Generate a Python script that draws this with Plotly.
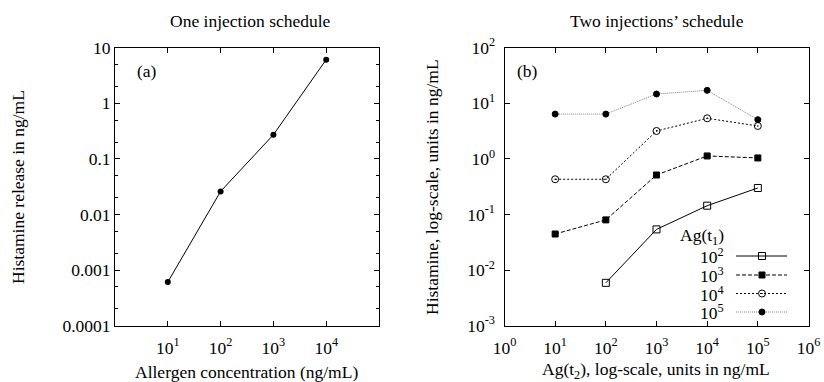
import plotly.graph_objects as go

# ---- data ----
# (a) one injection: allergen concentration vs histamine release
allergen_conc = [1e1, 1e2, 1e3, 1e4]
histamine_one = [0.00061, 0.026, 0.272, 6.1]

# (b) two injections: Ag(t2) vs histamine, one series per Ag(t1)
ag_t2 = [1e1, 1e2, 1e3, 1e4, 1e5]
series_names = ["10<sup>2</sup>", "10<sup>3</sup>", "10<sup>4</sup>", "10<sup>5</sup>"]
hist_t1_1e2 = [None, 0.0059, 0.054, 0.144, 0.30]
hist_t1_1e3 = [0.0446, 0.080, 0.513, 1.13, 1.04]
hist_t1_1e4 = [0.43, 0.43, 3.18, 5.37, 3.91]
hist_t1_1e5 = [6.4, 6.4, 14.7, 17.1, 5.07]

left_yticks = [10, 1, 0.1, 0.01, 0.001, 0.0001]
left_yticktext = ["10", "1", "0.1", "0.01", "0.001", "0.0001"]
left_xticks = [1e1, 1e2, 1e3, 1e4]
left_xticktext = ["10<sup>1</sup>", "10<sup>2</sup>", "10<sup>3</sup>", "10<sup>4</sup>"]
right_xticks = [10.0 ** k for k in range(0, 7)]
right_xticktext = ["10<sup>%d</sup>" % k for k in range(0, 7)]
right_yticks = [10.0 ** k for k in range(-3, 3)]
right_yticktext = ["10<sup>%d</sup>" % k for k in range(-3, 3)]

FONT = "Liberation Serif, Times New Roman, serif"
FS = 17.5
W, H = 824, 382

series_styles = [
    dict(dash="solid", color="black", symbol="square-open", size=7),
    dict(dash="4px,2px", color="black", symbol="square", size=6),
    dict(dash="2px,2px", color="black", symbol="circle-open-dot", size=7),
    dict(dash="1px,1px", color="#808080", symbol="circle", size=6),
]
series_values = [hist_t1_1e2, hist_t1_1e3, hist_t1_1e4, hist_t1_1e5]

fig = go.Figure()

# panel (a)
fig.add_trace(go.Scatter(
    x=allergen_conc, y=histamine_one, mode="lines+markers",
    line=dict(color="black", width=1),
    marker=dict(symbol="circle", size=6, color="black"),
    xaxis="x", yaxis="y", showlegend=False,
))

# panel (b)
for vals, st in zip(series_values, series_styles):
    fig.add_trace(go.Scatter(
        x=ag_t2, y=vals, mode="lines+markers",
        line=dict(color=st["color"], width=1, dash=st["dash"]),
        marker=dict(symbol=st["symbol"], size=st["size"], color="black",
                    line=dict(color="black", width=1)),
        xaxis="x2", yaxis="y2", showlegend=False, connectgaps=False,
    ))

# hand-drawn key for panel (b), on a pixel-scaled overlay axis
key_x0, key_x1, key_xm = 736, 787, 762
key_rows = [256, 275, 293.5, 312]
for row, st in zip(key_rows, series_styles):
    fig.add_trace(go.Scatter(
        x=[key_x0, key_x1], y=[row, row], mode="lines",
        line=dict(color=st["color"], width=1, dash=st["dash"]),
        xaxis="x3", yaxis="y3", showlegend=False, hoverinfo="skip",
    ))
    fig.add_trace(go.Scatter(
        x=[key_xm], y=[row], mode="markers",
        marker=dict(symbol=st["symbol"], size=st["size"], color="black",
                    line=dict(color="black", width=1)),
        xaxis="x3", yaxis="y3", showlegend=False, hoverinfo="skip",
    ))

axis_common = dict(
    type="log", showline=True, linecolor="black", linewidth=1,
    mirror="ticks", ticks="inside", ticklen=5, tickcolor="black",
    showgrid=False, zeroline=False, automargin=False,
    tickfont=dict(family=FONT, size=FS, color="black"),
)

left_dom_x = [115 / W, 379 / W]
right_dom_x = [504.5 / W, 808.5 / W]
dom_y = [1 - 325.7 / H, 1 - 47.7 / H]

minor_left_y = []
for k in range(-4, 1):
    minor_left_y += [2 * 10.0 ** k, 5 * 10.0 ** k]

fig.update_layout(
    template="none",
    width=W, height=H,
    margin=dict(l=0, r=0, t=0, b=0, autoexpand=False),
    paper_bgcolor="white", plot_bgcolor="rgba(0,0,0,0)",
    font=dict(family=FONT, size=FS, color="black"),
    xaxis=dict(axis_common, domain=left_dom_x, range=[0, 5], anchor="y",
               tickvals=left_xticks, ticktext=left_xticktext,
               ticklabelstandoff=6),
    yaxis=dict(axis_common, domain=dom_y, range=[-4, 1], anchor="x",
               tickvals=left_yticks, ticktext=left_yticktext,
               minor=dict(ticks="inside", ticklen=3, tickcolor="black",
                          tickvals=minor_left_y)),
    xaxis2=dict(axis_common, domain=right_dom_x, range=[0, 6], anchor="y2",
                tickvals=right_xticks, ticktext=right_xticktext,
                ticklabelstandoff=6),
    yaxis2=dict(axis_common, domain=dom_y, range=[-3, 2], anchor="x2",
                tickvals=right_yticks, ticktext=right_yticktext,
                ticklabelstandoff=5),
    xaxis3=dict(domain=[0, 1], range=[0, W], visible=False, anchor="y3",
                automargin=False),
    yaxis3=dict(domain=[0, 1], range=[H, 0], visible=False, anchor="x3",
                automargin=False),
)


def label(text, x, y, size=FS, angle=0, xanchor="center"):
    fig.add_annotation(
        text=text, x=x / W, y=1 - y / H, xref="paper", yref="paper",
        showarrow=False, textangle=angle, xanchor=xanchor, yanchor="middle",
        font=dict(family=FONT, size=size, color="black"),
    )


label("One injection schedule", 251, 21)
label("Two injections\u2019 schedule", 657, 21)
label("Allergen concentration (ng/mL)", 247, 372)
label("Ag(t<sub>2</sub>), log-scale, units in ng/mL", 656, 370)
label("Histamine release in ng/mL", 18, 187, angle=-90)
label("Histamine, log-scale, units in ng/mL", 432, 187, angle=-90)
label("(a)", 147, 71)
label("(b)", 527, 71)
label("Ag(t<sub>1</sub>)", 726, 237, xanchor="right")
for row, name in zip(key_rows, series_names):
    label(name, 726, row, xanchor="right")

fig.write_html("out.html")
